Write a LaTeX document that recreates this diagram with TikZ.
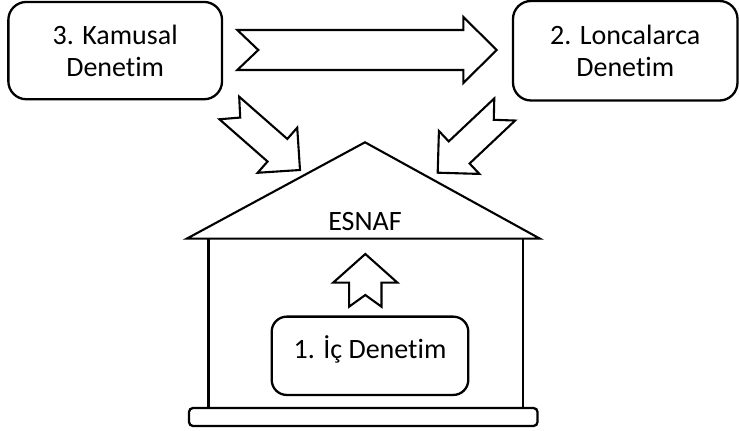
\documentclass[tikz,border=0pt]{standalone}
\usepackage{fontspec}
\setmainfont{Carlito}[Ligatures=NoCommon]
\usetikzlibrary{calc}
\tikzset{
  rbox/.style={draw, line width=2.3pt, rounded corners=18pt, align=center, inner sep=0pt,
    font=\fontsize{28}{32.3}\selectfont},
  barrow/.style={draw, line width=2.1pt, line join=miter, fill=white},
  house/.style={draw, line width=2.1pt},
  lbl/.style={font=\fontsize{28}{32.3}\selectfont, inner sep=0pt}
}
% #1 tail, #2 tip, #3 body half-width, #4 head half-width, #5 head length, #6 notch depth
\newcommand\blockarrow[6]{%
  \draw[barrow] ($(#1)!#3!-90:(#2)$)
   -- ($ ($(#2)!#5!(#1)$)!#3!90:(#1) $)
   -- ($ ($(#2)!#5!(#1)$)!#4!90:(#1) $)
   -- (#2)
   -- ($ ($(#2)!#5!(#1)$)!#4!-90:(#1) $)
   -- ($ ($(#2)!#5!(#1)$)!#3!-90:(#1) $)
   -- ($(#1)!#3!90:(#2)$)
   -- ($(#1)!#6!(#2)$) -- cycle;}
\begin{document}
\begin{tikzpicture}[x=1pt,y=1pt]
\useasboundingbox (0,0) rectangle (739,431);
% top boxes
\node[rbox, minimum width=213.7pt, minimum height=97.3pt] (kamu) at (115.2,380.4) {3. Kamusal\\Denetim};
\node[rbox, minimum width=224.5pt, minimum height=99.5pt] (lonca) at (625.25,380.25) {2. Loncalarca\\Denetim};
% house
\coordinate (roofL) at (186.7,192.3);
\coordinate (apex) at (365,288.7);
\coordinate (roofR) at (540,192.3);
\draw[house] (roofL) -- (apex) -- (roofR) -- cycle;
\coordinate (wallLt) at (208.5,192.3);
\coordinate (wallLb) at (208.5,23);
\coordinate (wallRt) at (523,192.3);
\coordinate (wallRb) at (523,23);
\draw[house] (wallLt) -- (wallLb);
\draw[house] (wallRt) -- (wallRb);
\draw[house, line width=2.3pt, rounded corners=4pt] (189,5) rectangle (537.5,23);
\node[lbl] (esnaf) at (365,209.3) {ESNAF};
\node[rbox, rounded corners=15pt, minimum width=196.6pt, minimum height=78.3pt,
      text height=15pt, text depth=10pt] (ic) at (370,75.2) {1. İç Denetim};
% block arrows
\coordinate (raT) at (237.3,381);
\coordinate (raH) at (496.7,381);
\blockarrow{raT}{raH}{20pt}{33pt}{33.4pt}{21pt}
\coordinate (d1T) at (229.3,323);
\coordinate (d1H) at (300,261);
\blockarrow{d1T}{d1H}{15pt}{30pt}{30pt}{14.5pt}
\coordinate (d2T) at (504.7,321.5);
\coordinate (d2H) at (437.7,258.3);
\blockarrow{d2T}{d2H}{15.2pt}{29.5pt}{29.5pt}{15pt}
\coordinate (upT) at (365.3,124.3);
\coordinate (upH) at (365.3,177);
\blockarrow{upT}{upH}{16.2pt}{32.2pt}{28.7pt}{11.7pt}
\end{tikzpicture}
\end{document}
